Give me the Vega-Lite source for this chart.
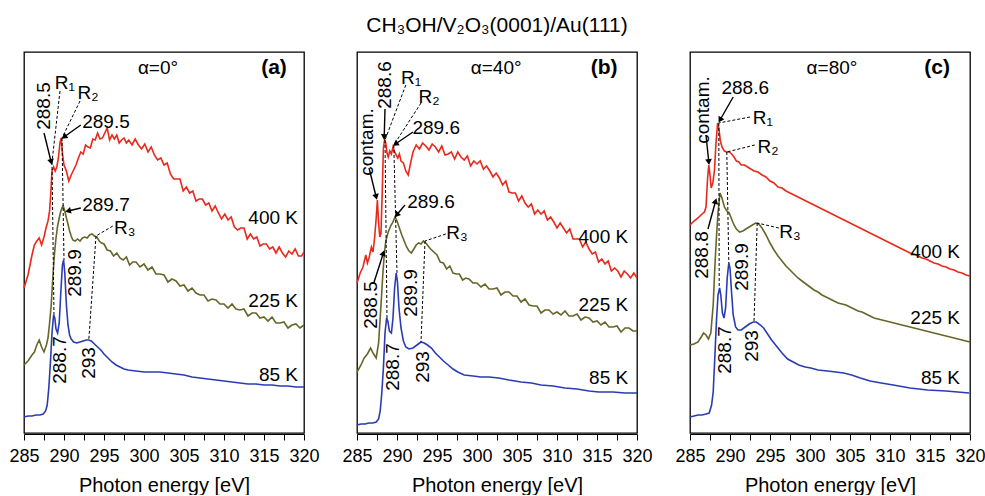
{
"$schema":"https://vega.github.io/schema/vega-lite/v6.json",
"padding":{"left":8,"top":15,"right":0,"bottom":0},
"title":{"text":"CH₃OH/V₂O₃(0001)/Au(111)","fontSize":21,"font":"Liberation Sans","fontWeight":"normal","anchor":"middle","offset":15,"color":"black"},
"config":{"view":{"stroke":"black","strokeWidth":1.3},"font":"Liberation Sans",
"axis":{"labelFont":"Liberation Sans","labelFontSize":18,"labelColor":"black","titleFont":"Liberation Sans","titleFontSize":20,"titleFontWeight":"normal","titleColor":"black","tickColor":"black","domainColor":"black","tickSize":6,"grid":false}},
"spacing":45,
"data":{"values":[
{"p":"a","k":"c","s":"400 K","x":285,"y":145},{"p":"a","k":"c","s":"400 K","x":285.5,"y":158},{"p":"a","k":"c","s":"400 K","x":286,"y":178},{"p":"a","k":"c","s":"400 K","x":286.3,"y":188},{"p":"a","k":"c","s":"400 K","x":286.6,"y":192},{"p":"a","k":"c","s":"400 K","x":286.9,"y":195},{"p":"a","k":"c","s":"400 K","x":287.2,"y":188},{"p":"a","k":"c","s":"400 K","x":287.5,"y":196},{"p":"a","k":"c","s":"400 K","x":287.75,"y":205},{"p":"a","k":"c","s":"400 K","x":288,"y":212},{"p":"a","k":"c","s":"400 K","x":288.2,"y":222},{"p":"a","k":"c","s":"400 K","x":288.35,"y":240},{"p":"a","k":"c","s":"400 K","x":288.5,"y":262},{"p":"a","k":"c","s":"400 K","x":288.7,"y":266},{"p":"a","k":"c","s":"400 K","x":288.9,"y":262},{"p":"a","k":"c","s":"400 K","x":289.1,"y":266},{"p":"a","k":"c","s":"400 K","x":289.3,"y":275},{"p":"a","k":"c","s":"400 K","x":289.5,"y":290},{"p":"a","k":"c","s":"400 K","x":289.65,"y":295},{"p":"a","k":"c","s":"400 K","x":289.8,"y":280},{"p":"a","k":"c","s":"400 K","x":290,"y":268},{"p":"a","k":"c","s":"400 K","x":290.3,"y":262},{"p":"a","k":"c","s":"400 K","x":290.6,"y":252},{"p":"a","k":"c","s":"400 K","x":290.9,"y":258},{"p":"a","k":"c","s":"400 K","x":291.2,"y":263},{"p":"a","k":"c","s":"400 K","x":291.5,"y":268},{"p":"a","k":"c","s":"400 K","x":291.8,"y":275},{"p":"a","k":"c","s":"400 K","x":292.1,"y":281},{"p":"a","k":"c","s":"400 K","x":292.4,"y":279},{"p":"a","k":"c","s":"400 K","x":292.7,"y":288},{"p":"a","k":"c","s":"400 K","x":293,"y":286},{"p":"a","k":"c","s":"400 K","x":293.3,"y":285},{"p":"a","k":"c","s":"400 K","x":293.6,"y":294},{"p":"a","k":"c","s":"400 K","x":293.9,"y":293},{"p":"a","k":"c","s":"400 K","x":294.2,"y":300},{"p":"a","k":"c","s":"400 K","x":294.5,"y":294},{"p":"a","k":"c","s":"400 K","x":294.8,"y":295},{"p":"a","k":"c","s":"400 K","x":295.1,"y":300},{"p":"a","k":"c","s":"400 K","x":295.4,"y":305},{"p":"a","k":"c","s":"400 K","x":295.7,"y":293},{"p":"a","k":"c","s":"400 K","x":296,"y":298},{"p":"a","k":"c","s":"400 K","x":296.3,"y":294},{"p":"a","k":"c","s":"400 K","x":296.6,"y":298},{"p":"a","k":"c","s":"400 K","x":296.9,"y":290},{"p":"a","k":"c","s":"400 K","x":297.2,"y":293},{"p":"a","k":"c","s":"400 K","x":297.5,"y":295},{"p":"a","k":"c","s":"400 K","x":297.8,"y":290},{"p":"a","k":"c","s":"400 K","x":298.1,"y":293},{"p":"a","k":"c","s":"400 K","x":298.5,"y":288},{"p":"a","k":"c","s":"400 K","x":298.9,"y":294},{"p":"a","k":"c","s":"400 K","x":299.3,"y":288},{"p":"a","k":"c","s":"400 K","x":299.7,"y":284},{"p":"a","k":"c","s":"400 K","x":300.1,"y":289},{"p":"a","k":"c","s":"400 K","x":300.5,"y":281},{"p":"a","k":"c","s":"400 K","x":300.9,"y":286},{"p":"a","k":"c","s":"400 K","x":301.3,"y":278},{"p":"a","k":"c","s":"400 K","x":301.7,"y":273},{"p":"a","k":"c","s":"400 K","x":302.1,"y":275},{"p":"a","k":"c","s":"400 K","x":302.5,"y":268},{"p":"a","k":"c","s":"400 K","x":302.9,"y":270},{"p":"a","k":"c","s":"400 K","x":303.3,"y":259},{"p":"a","k":"c","s":"400 K","x":303.7,"y":254},{"p":"a","k":"c","s":"400 K","x":304.1,"y":254},{"p":"a","k":"c","s":"400 K","x":304.5,"y":254},{"p":"a","k":"c","s":"400 K","x":304.9,"y":242},{"p":"a","k":"c","s":"400 K","x":305.3,"y":246},{"p":"a","k":"c","s":"400 K","x":305.7,"y":240},{"p":"a","k":"c","s":"400 K","x":306.1,"y":242},{"p":"a","k":"c","s":"400 K","x":306.5,"y":232},{"p":"a","k":"c","s":"400 K","x":306.9,"y":234},{"p":"a","k":"c","s":"400 K","x":307.3,"y":234},{"p":"a","k":"c","s":"400 K","x":307.7,"y":228},{"p":"a","k":"c","s":"400 K","x":308.1,"y":230},{"p":"a","k":"c","s":"400 K","x":308.5,"y":222},{"p":"a","k":"c","s":"400 K","x":308.9,"y":227},{"p":"a","k":"c","s":"400 K","x":309.3,"y":220},{"p":"a","k":"c","s":"400 K","x":309.7,"y":214},{"p":"a","k":"c","s":"400 K","x":310.1,"y":219},{"p":"a","k":"c","s":"400 K","x":310.5,"y":213},{"p":"a","k":"c","s":"400 K","x":310.9,"y":216},{"p":"a","k":"c","s":"400 K","x":311.3,"y":206},{"p":"a","k":"c","s":"400 K","x":311.7,"y":203},{"p":"a","k":"c","s":"400 K","x":312.1,"y":205},{"p":"a","k":"c","s":"400 K","x":312.5,"y":205},{"p":"a","k":"c","s":"400 K","x":312.9,"y":194},{"p":"a","k":"c","s":"400 K","x":313.3,"y":199},{"p":"a","k":"c","s":"400 K","x":313.7,"y":194},{"p":"a","k":"c","s":"400 K","x":314.1,"y":196},{"p":"a","k":"c","s":"400 K","x":314.5,"y":187},{"p":"a","k":"c","s":"400 K","x":314.9,"y":189},{"p":"a","k":"c","s":"400 K","x":315.3,"y":189},{"p":"a","k":"c","s":"400 K","x":315.7,"y":184},{"p":"a","k":"c","s":"400 K","x":316.1,"y":186},{"p":"a","k":"c","s":"400 K","x":316.5,"y":180},{"p":"a","k":"c","s":"400 K","x":316.9,"y":186},{"p":"a","k":"c","s":"400 K","x":317.3,"y":180},{"p":"a","k":"c","s":"400 K","x":317.7,"y":176},{"p":"a","k":"c","s":"400 K","x":318.1,"y":182},{"p":"a","k":"c","s":"400 K","x":318.5,"y":179},{"p":"a","k":"c","s":"400 K","x":318.9,"y":184},{"p":"a","k":"c","s":"400 K","x":319.3,"y":177},{"p":"a","k":"c","s":"400 K","x":319.7,"y":177},{"p":"a","k":"c","s":"400 K","x":320,"y":181},
{"p":"a","k":"c","s":"225 K","x":285,"y":68},{"p":"a","k":"c","s":"225 K","x":285.5,"y":72},{"p":"a","k":"c","s":"225 K","x":286,"y":78},{"p":"a","k":"c","s":"225 K","x":286.3,"y":81},{"p":"a","k":"c","s":"225 K","x":286.6,"y":88},{"p":"a","k":"c","s":"225 K","x":286.9,"y":93},{"p":"a","k":"c","s":"225 K","x":287.2,"y":86},{"p":"a","k":"c","s":"225 K","x":287.5,"y":81},{"p":"a","k":"c","s":"225 K","x":287.8,"y":88},{"p":"a","k":"c","s":"225 K","x":288,"y":95},{"p":"a","k":"c","s":"225 K","x":288.2,"y":110},{"p":"a","k":"c","s":"225 K","x":288.4,"y":128},{"p":"a","k":"c","s":"225 K","x":288.6,"y":155},{"p":"a","k":"c","s":"225 K","x":288.8,"y":178},{"p":"a","k":"c","s":"225 K","x":289,"y":195},{"p":"a","k":"c","s":"225 K","x":289.2,"y":207},{"p":"a","k":"c","s":"225 K","x":289.4,"y":215},{"p":"a","k":"c","s":"225 K","x":289.6,"y":222},{"p":"a","k":"c","s":"225 K","x":289.8,"y":226},{"p":"a","k":"c","s":"225 K","x":289.9,"y":227},{"p":"a","k":"c","s":"225 K","x":290.1,"y":222},{"p":"a","k":"c","s":"225 K","x":290.3,"y":215},{"p":"a","k":"c","s":"225 K","x":290.5,"y":209},{"p":"a","k":"c","s":"225 K","x":290.7,"y":202},{"p":"a","k":"c","s":"225 K","x":290.9,"y":197},{"p":"a","k":"c","s":"225 K","x":291.1,"y":193},{"p":"a","k":"c","s":"225 K","x":291.4,"y":192},{"p":"a","k":"c","s":"225 K","x":291.7,"y":194},{"p":"a","k":"c","s":"225 K","x":292,"y":192},{"p":"a","k":"c","s":"225 K","x":292.3,"y":195},{"p":"a","k":"c","s":"225 K","x":292.6,"y":196},{"p":"a","k":"c","s":"225 K","x":292.9,"y":195},{"p":"a","k":"c","s":"225 K","x":293.2,"y":198},{"p":"a","k":"c","s":"225 K","x":293.5,"y":199},{"p":"a","k":"c","s":"225 K","x":293.8,"y":197},{"p":"a","k":"c","s":"225 K","x":294.1,"y":196},{"p":"a","k":"c","s":"225 K","x":294.4,"y":192},{"p":"a","k":"c","s":"225 K","x":294.7,"y":190},{"p":"a","k":"c","s":"225 K","x":295,"y":189},{"p":"a","k":"c","s":"225 K","x":295.4,"y":183},{"p":"a","k":"c","s":"225 K","x":295.8,"y":182},{"p":"a","k":"c","s":"225 K","x":296.2,"y":177},{"p":"a","k":"c","s":"225 K","x":296.6,"y":180},{"p":"a","k":"c","s":"225 K","x":297,"y":175},{"p":"a","k":"c","s":"225 K","x":297.4,"y":173},{"p":"a","k":"c","s":"225 K","x":297.8,"y":176},{"p":"a","k":"c","s":"225 K","x":298.2,"y":168},{"p":"a","k":"c","s":"225 K","x":298.6,"y":171},{"p":"a","k":"c","s":"225 K","x":299,"y":171},{"p":"a","k":"c","s":"225 K","x":299.5,"y":166},{"p":"a","k":"c","s":"225 K","x":300,"y":169},{"p":"a","k":"c","s":"225 K","x":300.5,"y":163},{"p":"a","k":"c","s":"225 K","x":301,"y":166},{"p":"a","k":"c","s":"225 K","x":301.5,"y":159},{"p":"a","k":"c","s":"225 K","x":302,"y":159},{"p":"a","k":"c","s":"225 K","x":302.5,"y":158},{"p":"a","k":"c","s":"225 K","x":303,"y":151},{"p":"a","k":"c","s":"225 K","x":303.5,"y":154},{"p":"a","k":"c","s":"225 K","x":304,"y":152},{"p":"a","k":"c","s":"225 K","x":304.5,"y":147},{"p":"a","k":"c","s":"225 K","x":305,"y":148},{"p":"a","k":"c","s":"225 K","x":305.5,"y":142},{"p":"a","k":"c","s":"225 K","x":306,"y":145},{"p":"a","k":"c","s":"225 K","x":306.5,"y":140},{"p":"a","k":"c","s":"225 K","x":307,"y":138},{"p":"a","k":"c","s":"225 K","x":307.5,"y":138},{"p":"a","k":"c","s":"225 K","x":308,"y":132},{"p":"a","k":"c","s":"225 K","x":308.5,"y":134},{"p":"a","k":"c","s":"225 K","x":309,"y":133},{"p":"a","k":"c","s":"225 K","x":309.5,"y":129},{"p":"a","k":"c","s":"225 K","x":310,"y":129},{"p":"a","k":"c","s":"225 K","x":310.5,"y":125},{"p":"a","k":"c","s":"225 K","x":311,"y":129},{"p":"a","k":"c","s":"225 K","x":311.5,"y":124},{"p":"a","k":"c","s":"225 K","x":312,"y":123},{"p":"a","k":"c","s":"225 K","x":312.5,"y":124},{"p":"a","k":"c","s":"225 K","x":313,"y":117},{"p":"a","k":"c","s":"225 K","x":313.5,"y":120},{"p":"a","k":"c","s":"225 K","x":314,"y":120},{"p":"a","k":"c","s":"225 K","x":314.5,"y":115},{"p":"a","k":"c","s":"225 K","x":315,"y":116},{"p":"a","k":"c","s":"225 K","x":315.5,"y":112},{"p":"a","k":"c","s":"225 K","x":316,"y":116},{"p":"a","k":"c","s":"225 K","x":316.5,"y":110},{"p":"a","k":"c","s":"225 K","x":317,"y":110},{"p":"a","k":"c","s":"225 K","x":317.5,"y":111},{"p":"a","k":"c","s":"225 K","x":318,"y":105},{"p":"a","k":"c","s":"225 K","x":318.5,"y":108},{"p":"a","k":"c","s":"225 K","x":319,"y":109},{"p":"a","k":"c","s":"225 K","x":319.5,"y":105},{"p":"a","k":"c","s":"225 K","x":320,"y":108},
{"p":"a","k":"c","s":"85 K","x":285,"y":16},{"p":"a","k":"c","s":"85 K","x":285.5,"y":17},{"p":"a","k":"c","s":"85 K","x":286,"y":17},{"p":"a","k":"c","s":"85 K","x":286.5,"y":18},{"p":"a","k":"c","s":"85 K","x":287,"y":18},{"p":"a","k":"c","s":"85 K","x":287.4,"y":19},{"p":"a","k":"c","s":"85 K","x":287.7,"y":22},{"p":"a","k":"c","s":"85 K","x":287.9,"y":28},{"p":"a","k":"c","s":"85 K","x":288.1,"y":45},{"p":"a","k":"c","s":"85 K","x":288.3,"y":70},{"p":"a","k":"c","s":"85 K","x":288.5,"y":100},{"p":"a","k":"c","s":"85 K","x":288.7,"y":118},{"p":"a","k":"c","s":"85 K","x":288.85,"y":115},{"p":"a","k":"c","s":"85 K","x":289,"y":104},{"p":"a","k":"c","s":"85 K","x":289.2,"y":100},{"p":"a","k":"c","s":"85 K","x":289.4,"y":110},{"p":"a","k":"c","s":"85 K","x":289.6,"y":140},{"p":"a","k":"c","s":"85 K","x":289.8,"y":168},{"p":"a","k":"c","s":"85 K","x":289.95,"y":173},{"p":"a","k":"c","s":"85 K","x":290.1,"y":160},{"p":"a","k":"c","s":"85 K","x":290.3,"y":128},{"p":"a","k":"c","s":"85 K","x":290.5,"y":108},{"p":"a","k":"c","s":"85 K","x":290.7,"y":98},{"p":"a","k":"c","s":"85 K","x":290.9,"y":94},{"p":"a","k":"c","s":"85 K","x":291.2,"y":91},{"p":"a","k":"c","s":"85 K","x":291.6,"y":90},{"p":"a","k":"c","s":"85 K","x":292,"y":91},{"p":"a","k":"c","s":"85 K","x":292.4,"y":92},{"p":"a","k":"c","s":"85 K","x":292.8,"y":93},{"p":"a","k":"c","s":"85 K","x":293.1,"y":93},{"p":"a","k":"c","s":"85 K","x":293.4,"y":92},{"p":"a","k":"c","s":"85 K","x":293.8,"y":89},{"p":"a","k":"c","s":"85 K","x":294.2,"y":86},{"p":"a","k":"c","s":"85 K","x":294.6,"y":83},{"p":"a","k":"c","s":"85 K","x":295,"y":79},{"p":"a","k":"c","s":"85 K","x":295.5,"y":75},{"p":"a","k":"c","s":"85 K","x":296,"y":71},{"p":"a","k":"c","s":"85 K","x":296.5,"y":68},{"p":"a","k":"c","s":"85 K","x":297,"y":66},{"p":"a","k":"c","s":"85 K","x":297.5,"y":64},{"p":"a","k":"c","s":"85 K","x":298,"y":63},{"p":"a","k":"c","s":"85 K","x":299,"y":62},{"p":"a","k":"c","s":"85 K","x":300,"y":61},{"p":"a","k":"c","s":"85 K","x":301,"y":61},{"p":"a","k":"c","s":"85 K","x":302,"y":61},{"p":"a","k":"c","s":"85 K","x":303,"y":60},{"p":"a","k":"c","s":"85 K","x":304,"y":59},{"p":"a","k":"c","s":"85 K","x":305,"y":58},{"p":"a","k":"c","s":"85 K","x":306,"y":56},{"p":"a","k":"c","s":"85 K","x":307,"y":55},{"p":"a","k":"c","s":"85 K","x":308,"y":54},{"p":"a","k":"c","s":"85 K","x":309,"y":53},{"p":"a","k":"c","s":"85 K","x":310,"y":52},{"p":"a","k":"c","s":"85 K","x":311,"y":51},{"p":"a","k":"c","s":"85 K","x":312,"y":50},{"p":"a","k":"c","s":"85 K","x":313,"y":49},{"p":"a","k":"c","s":"85 K","x":314,"y":49},{"p":"a","k":"c","s":"85 K","x":315,"y":48},{"p":"a","k":"c","s":"85 K","x":316,"y":48},{"p":"a","k":"c","s":"85 K","x":317,"y":47},{"p":"a","k":"c","s":"85 K","x":318,"y":47},{"p":"a","k":"c","s":"85 K","x":319,"y":46},{"p":"a","k":"c","s":"85 K","x":320,"y":46},
{"p":"b","k":"c","s":"400 K","x":285,"y":150},{"p":"b","k":"c","s":"400 K","x":285.4,"y":160},{"p":"b","k":"c","s":"400 K","x":285.75,"y":166},{"p":"b","k":"c","s":"400 K","x":286.1,"y":178},{"p":"b","k":"c","s":"400 K","x":286.3,"y":170},{"p":"b","k":"c","s":"400 K","x":286.5,"y":175},{"p":"b","k":"c","s":"400 K","x":286.8,"y":186},{"p":"b","k":"c","s":"400 K","x":287,"y":181},{"p":"b","k":"c","s":"400 K","x":287.2,"y":195},{"p":"b","k":"c","s":"400 K","x":287.4,"y":215},{"p":"b","k":"c","s":"400 K","x":287.55,"y":233},{"p":"b","k":"c","s":"400 K","x":287.7,"y":210},{"p":"b","k":"c","s":"400 K","x":287.85,"y":196},{"p":"b","k":"c","s":"400 K","x":288,"y":200},{"p":"b","k":"c","s":"400 K","x":288.15,"y":240},{"p":"b","k":"c","s":"400 K","x":288.3,"y":285},{"p":"b","k":"c","s":"400 K","x":288.45,"y":293},{"p":"b","k":"c","s":"400 K","x":288.6,"y":290},{"p":"b","k":"c","s":"400 K","x":288.75,"y":280},{"p":"b","k":"c","s":"400 K","x":288.9,"y":276},{"p":"b","k":"c","s":"400 K","x":289.1,"y":282},{"p":"b","k":"c","s":"400 K","x":289.3,"y":279},{"p":"b","k":"c","s":"400 K","x":289.5,"y":286},{"p":"b","k":"c","s":"400 K","x":289.7,"y":281},{"p":"b","k":"c","s":"400 K","x":289.9,"y":278},{"p":"b","k":"c","s":"400 K","x":290.1,"y":275},{"p":"b","k":"c","s":"400 K","x":290.3,"y":279},{"p":"b","k":"c","s":"400 K","x":290.5,"y":272},{"p":"b","k":"c","s":"400 K","x":290.8,"y":270},{"p":"b","k":"c","s":"400 K","x":291.1,"y":262},{"p":"b","k":"c","s":"400 K","x":291.4,"y":258},{"p":"b","k":"c","s":"400 K","x":291.7,"y":270},{"p":"b","k":"c","s":"400 K","x":292,"y":281},{"p":"b","k":"c","s":"400 K","x":292.4,"y":288},{"p":"b","k":"c","s":"400 K","x":292.8,"y":284},{"p":"b","k":"c","s":"400 K","x":293.2,"y":290},{"p":"b","k":"c","s":"400 K","x":293.6,"y":287},{"p":"b","k":"c","s":"400 K","x":294,"y":283},{"p":"b","k":"c","s":"400 K","x":294.4,"y":289},{"p":"b","k":"c","s":"400 K","x":294.8,"y":286},{"p":"b","k":"c","s":"400 K","x":295.2,"y":281},{"p":"b","k":"c","s":"400 K","x":295.6,"y":287},{"p":"b","k":"c","s":"400 K","x":296,"y":278},{"p":"b","k":"c","s":"400 K","x":296.4,"y":279},{"p":"b","k":"c","s":"400 K","x":296.8,"y":281},{"p":"b","k":"c","s":"400 K","x":297.2,"y":274},{"p":"b","k":"c","s":"400 K","x":297.6,"y":281},{"p":"b","k":"c","s":"400 K","x":298,"y":276},{"p":"b","k":"c","s":"400 K","x":298.4,"y":273},{"p":"b","k":"c","s":"400 K","x":298.8,"y":277},{"p":"b","k":"c","s":"400 K","x":299.2,"y":267},{"p":"b","k":"c","s":"400 K","x":299.6,"y":272},{"p":"b","k":"c","s":"400 K","x":300,"y":269},{"p":"b","k":"c","s":"400 K","x":300.4,"y":272},{"p":"b","k":"c","s":"400 K","x":300.8,"y":264},{"p":"b","k":"c","s":"400 K","x":301.2,"y":267},{"p":"b","k":"c","s":"400 K","x":301.6,"y":262},{"p":"b","k":"c","s":"400 K","x":302,"y":256},{"p":"b","k":"c","s":"400 K","x":302.4,"y":260},{"p":"b","k":"c","s":"400 K","x":302.8,"y":255},{"p":"b","k":"c","s":"400 K","x":303.2,"y":248},{"p":"b","k":"c","s":"400 K","x":303.6,"y":252},{"p":"b","k":"c","s":"400 K","x":304,"y":241},{"p":"b","k":"c","s":"400 K","x":304.4,"y":240},{"p":"b","k":"c","s":"400 K","x":304.8,"y":240},{"p":"b","k":"c","s":"400 K","x":305.2,"y":232},{"p":"b","k":"c","s":"400 K","x":305.6,"y":237},{"p":"b","k":"c","s":"400 K","x":306,"y":230},{"p":"b","k":"c","s":"400 K","x":306.4,"y":226},{"p":"b","k":"c","s":"400 K","x":306.8,"y":229},{"p":"b","k":"c","s":"400 K","x":307.2,"y":219},{"p":"b","k":"c","s":"400 K","x":307.6,"y":223},{"p":"b","k":"c","s":"400 K","x":308,"y":219},{"p":"b","k":"c","s":"400 K","x":308.4,"y":222},{"p":"b","k":"c","s":"400 K","x":308.8,"y":213},{"p":"b","k":"c","s":"400 K","x":309.2,"y":216},{"p":"b","k":"c","s":"400 K","x":309.6,"y":211},{"p":"b","k":"c","s":"400 K","x":310,"y":205},{"p":"b","k":"c","s":"400 K","x":310.4,"y":210},{"p":"b","k":"c","s":"400 K","x":310.8,"y":205},{"p":"b","k":"c","s":"400 K","x":311.2,"y":200},{"p":"b","k":"c","s":"400 K","x":311.6,"y":204},{"p":"b","k":"c","s":"400 K","x":312,"y":194},{"p":"b","k":"c","s":"400 K","x":312.4,"y":194},{"p":"b","k":"c","s":"400 K","x":312.8,"y":194},{"p":"b","k":"c","s":"400 K","x":313.2,"y":186},{"p":"b","k":"c","s":"400 K","x":313.6,"y":191},{"p":"b","k":"c","s":"400 K","x":314,"y":184},{"p":"b","k":"c","s":"400 K","x":314.4,"y":179},{"p":"b","k":"c","s":"400 K","x":314.8,"y":181},{"p":"b","k":"c","s":"400 K","x":315.2,"y":171},{"p":"b","k":"c","s":"400 K","x":315.6,"y":174},{"p":"b","k":"c","s":"400 K","x":316,"y":169},{"p":"b","k":"c","s":"400 K","x":316.4,"y":172},{"p":"b","k":"c","s":"400 K","x":316.8,"y":162},{"p":"b","k":"c","s":"400 K","x":317.2,"y":165},{"p":"b","k":"c","s":"400 K","x":317.6,"y":162},{"p":"b","k":"c","s":"400 K","x":318,"y":156},{"p":"b","k":"c","s":"400 K","x":318.4,"y":162},{"p":"b","k":"c","s":"400 K","x":318.8,"y":159},{"p":"b","k":"c","s":"400 K","x":319.2,"y":155},{"p":"b","k":"c","s":"400 K","x":319.6,"y":160},{"p":"b","k":"c","s":"400 K","x":320,"y":155},
{"p":"b","k":"c","s":"225 K","x":285,"y":61},{"p":"b","k":"c","s":"225 K","x":285.5,"y":68},{"p":"b","k":"c","s":"225 K","x":285.9,"y":75},{"p":"b","k":"c","s":"225 K","x":286.3,"y":79},{"p":"b","k":"c","s":"225 K","x":286.7,"y":85},{"p":"b","k":"c","s":"225 K","x":287,"y":80},{"p":"b","k":"c","s":"225 K","x":287.4,"y":75},{"p":"b","k":"c","s":"225 K","x":287.7,"y":90},{"p":"b","k":"c","s":"225 K","x":288,"y":128},{"p":"b","k":"c","s":"225 K","x":288.2,"y":155},{"p":"b","k":"c","s":"225 K","x":288.4,"y":178},{"p":"b","k":"c","s":"225 K","x":288.6,"y":192},{"p":"b","k":"c","s":"225 K","x":288.9,"y":201},{"p":"b","k":"c","s":"225 K","x":289.2,"y":207},{"p":"b","k":"c","s":"225 K","x":289.5,"y":211},{"p":"b","k":"c","s":"225 K","x":289.75,"y":216},{"p":"b","k":"c","s":"225 K","x":290,"y":212},{"p":"b","k":"c","s":"225 K","x":290.3,"y":205},{"p":"b","k":"c","s":"225 K","x":290.6,"y":198},{"p":"b","k":"c","s":"225 K","x":290.9,"y":192},{"p":"b","k":"c","s":"225 K","x":291.2,"y":186},{"p":"b","k":"c","s":"225 K","x":291.5,"y":182},{"p":"b","k":"c","s":"225 K","x":291.8,"y":180},{"p":"b","k":"c","s":"225 K","x":292.1,"y":184},{"p":"b","k":"c","s":"225 K","x":292.4,"y":188},{"p":"b","k":"c","s":"225 K","x":292.7,"y":190},{"p":"b","k":"c","s":"225 K","x":293,"y":189},{"p":"b","k":"c","s":"225 K","x":293.3,"y":192},{"p":"b","k":"c","s":"225 K","x":293.6,"y":190},{"p":"b","k":"c","s":"225 K","x":293.9,"y":187},{"p":"b","k":"c","s":"225 K","x":294.2,"y":184},{"p":"b","k":"c","s":"225 K","x":294.6,"y":181},{"p":"b","k":"c","s":"225 K","x":295,"y":178},{"p":"b","k":"c","s":"225 K","x":295.4,"y":171},{"p":"b","k":"c","s":"225 K","x":295.8,"y":170},{"p":"b","k":"c","s":"225 K","x":296.2,"y":164},{"p":"b","k":"c","s":"225 K","x":296.6,"y":167},{"p":"b","k":"c","s":"225 K","x":297,"y":160},{"p":"b","k":"c","s":"225 K","x":297.4,"y":159},{"p":"b","k":"c","s":"225 K","x":297.8,"y":159},{"p":"b","k":"c","s":"225 K","x":298.2,"y":153},{"p":"b","k":"c","s":"225 K","x":298.6,"y":155},{"p":"b","k":"c","s":"225 K","x":299,"y":154},{"p":"b","k":"c","s":"225 K","x":299.5,"y":150},{"p":"b","k":"c","s":"225 K","x":300,"y":150},{"p":"b","k":"c","s":"225 K","x":300.5,"y":146},{"p":"b","k":"c","s":"225 K","x":301,"y":149},{"p":"b","k":"c","s":"225 K","x":301.5,"y":144},{"p":"b","k":"c","s":"225 K","x":302,"y":144},{"p":"b","k":"c","s":"225 K","x":302.5,"y":145},{"p":"b","k":"c","s":"225 K","x":303,"y":138},{"p":"b","k":"c","s":"225 K","x":303.5,"y":141},{"p":"b","k":"c","s":"225 K","x":304,"y":141},{"p":"b","k":"c","s":"225 K","x":304.5,"y":137},{"p":"b","k":"c","s":"225 K","x":305,"y":137},{"p":"b","k":"c","s":"225 K","x":305.5,"y":131},{"p":"b","k":"c","s":"225 K","x":306,"y":134},{"p":"b","k":"c","s":"225 K","x":306.5,"y":128},{"p":"b","k":"c","s":"225 K","x":307,"y":127},{"p":"b","k":"c","s":"225 K","x":307.5,"y":127},{"p":"b","k":"c","s":"225 K","x":308,"y":120},{"p":"b","k":"c","s":"225 K","x":308.5,"y":123},{"p":"b","k":"c","s":"225 K","x":309,"y":123},{"p":"b","k":"c","s":"225 K","x":309.5,"y":119},{"p":"b","k":"c","s":"225 K","x":310,"y":121},{"p":"b","k":"c","s":"225 K","x":310.5,"y":118},{"p":"b","k":"c","s":"225 K","x":311,"y":122},{"p":"b","k":"c","s":"225 K","x":311.5,"y":117},{"p":"b","k":"c","s":"225 K","x":312,"y":117},{"p":"b","k":"c","s":"225 K","x":312.5,"y":119},{"p":"b","k":"c","s":"225 K","x":313,"y":113},{"p":"b","k":"c","s":"225 K","x":313.5,"y":116},{"p":"b","k":"c","s":"225 K","x":314,"y":115},{"p":"b","k":"c","s":"225 K","x":314.5,"y":111},{"p":"b","k":"c","s":"225 K","x":315,"y":112},{"p":"b","k":"c","s":"225 K","x":315.5,"y":108},{"p":"b","k":"c","s":"225 K","x":316,"y":111},{"p":"b","k":"c","s":"225 K","x":316.5,"y":106},{"p":"b","k":"c","s":"225 K","x":317,"y":106},{"p":"b","k":"c","s":"225 K","x":317.5,"y":107},{"p":"b","k":"c","s":"225 K","x":318,"y":101},{"p":"b","k":"c","s":"225 K","x":318.5,"y":105},{"p":"b","k":"c","s":"225 K","x":319,"y":105},{"p":"b","k":"c","s":"225 K","x":319.5,"y":102},{"p":"b","k":"c","s":"225 K","x":320,"y":102},
{"p":"b","k":"c","s":"85 K","x":285,"y":8},{"p":"b","k":"c","s":"85 K","x":285.5,"y":9},{"p":"b","k":"c","s":"85 K","x":286,"y":9},{"p":"b","k":"c","s":"85 K","x":286.5,"y":10},{"p":"b","k":"c","s":"85 K","x":287,"y":10},{"p":"b","k":"c","s":"85 K","x":287.4,"y":11},{"p":"b","k":"c","s":"85 K","x":287.7,"y":14},{"p":"b","k":"c","s":"85 K","x":287.9,"y":22},{"p":"b","k":"c","s":"85 K","x":288.1,"y":40},{"p":"b","k":"c","s":"85 K","x":288.3,"y":65},{"p":"b","k":"c","s":"85 K","x":288.5,"y":100},{"p":"b","k":"c","s":"85 K","x":288.7,"y":115},{"p":"b","k":"c","s":"85 K","x":288.85,"y":112},{"p":"b","k":"c","s":"85 K","x":289.05,"y":102},{"p":"b","k":"c","s":"85 K","x":289.3,"y":100},{"p":"b","k":"c","s":"85 K","x":289.5,"y":115},{"p":"b","k":"c","s":"85 K","x":289.7,"y":145},{"p":"b","k":"c","s":"85 K","x":289.9,"y":160},{"p":"b","k":"c","s":"85 K","x":290.05,"y":152},{"p":"b","k":"c","s":"85 K","x":290.25,"y":125},{"p":"b","k":"c","s":"85 K","x":290.5,"y":105},{"p":"b","k":"c","s":"85 K","x":290.8,"y":92},{"p":"b","k":"c","s":"85 K","x":291.1,"y":86},{"p":"b","k":"c","s":"85 K","x":291.5,"y":84},{"p":"b","k":"c","s":"85 K","x":292,"y":85},{"p":"b","k":"c","s":"85 K","x":292.5,"y":88},{"p":"b","k":"c","s":"85 K","x":293,"y":91},{"p":"b","k":"c","s":"85 K","x":293.4,"y":90},{"p":"b","k":"c","s":"85 K","x":293.8,"y":88},{"p":"b","k":"c","s":"85 K","x":294.3,"y":85},{"p":"b","k":"c","s":"85 K","x":294.8,"y":80},{"p":"b","k":"c","s":"85 K","x":295.3,"y":76},{"p":"b","k":"c","s":"85 K","x":295.8,"y":72},{"p":"b","k":"c","s":"85 K","x":296.4,"y":68},{"p":"b","k":"c","s":"85 K","x":297,"y":64},{"p":"b","k":"c","s":"85 K","x":297.6,"y":61},{"p":"b","k":"c","s":"85 K","x":298.4,"y":58},{"p":"b","k":"c","s":"85 K","x":299.5,"y":57},{"p":"b","k":"c","s":"85 K","x":300.5,"y":56},{"p":"b","k":"c","s":"85 K","x":301.5,"y":56},{"p":"b","k":"c","s":"85 K","x":302.7,"y":55},{"p":"b","k":"c","s":"85 K","x":304,"y":53},{"p":"b","k":"c","s":"85 K","x":305.5,"y":51},{"p":"b","k":"c","s":"85 K","x":306.8,"y":50},{"p":"b","k":"c","s":"85 K","x":308,"y":48},{"p":"b","k":"c","s":"85 K","x":309.5,"y":47},{"p":"b","k":"c","s":"85 K","x":311,"y":45},{"p":"b","k":"c","s":"85 K","x":312.5,"y":44},{"p":"b","k":"c","s":"85 K","x":314,"y":42},{"p":"b","k":"c","s":"85 K","x":315.2,"y":41},{"p":"b","k":"c","s":"85 K","x":317,"y":41},{"p":"b","k":"c","s":"85 K","x":318.5,"y":40},{"p":"b","k":"c","s":"85 K","x":320,"y":40},
{"p":"c","k":"c","s":"400 K","x":285,"y":208},{"p":"c","k":"c","s":"400 K","x":285.5,"y":212},{"p":"c","k":"c","s":"400 K","x":286,"y":215},{"p":"c","k":"c","s":"400 K","x":286.5,"y":219},{"p":"c","k":"c","s":"400 K","x":286.8,"y":221},{"p":"c","k":"c","s":"400 K","x":287,"y":226},{"p":"c","k":"c","s":"400 K","x":287.2,"y":255},{"p":"c","k":"c","s":"400 K","x":287.35,"y":268},{"p":"c","k":"c","s":"400 K","x":287.5,"y":258},{"p":"c","k":"c","s":"400 K","x":287.65,"y":245},{"p":"c","k":"c","s":"400 K","x":287.85,"y":250},{"p":"c","k":"c","s":"400 K","x":288.05,"y":262},{"p":"c","k":"c","s":"400 K","x":288.25,"y":290},{"p":"c","k":"c","s":"400 K","x":288.45,"y":310},{"p":"c","k":"c","s":"400 K","x":288.6,"y":305},{"p":"c","k":"c","s":"400 K","x":288.8,"y":292},{"p":"c","k":"c","s":"400 K","x":289,"y":286},{"p":"c","k":"c","s":"400 K","x":289.3,"y":282},{"p":"c","k":"c","s":"400 K","x":289.6,"y":281},{"p":"c","k":"c","s":"400 K","x":289.9,"y":281},{"p":"c","k":"c","s":"400 K","x":290.2,"y":279},{"p":"c","k":"c","s":"400 K","x":290.5,"y":276},{"p":"c","k":"c","s":"400 K","x":290.8,"y":272},{"p":"c","k":"c","s":"400 K","x":291.1,"y":271},{"p":"c","k":"c","s":"400 K","x":291.4,"y":268},{"p":"c","k":"c","s":"400 K","x":291.8,"y":268},{"p":"c","k":"c","s":"400 K","x":292.2,"y":266},{"p":"c","k":"c","s":"400 K","x":292.6,"y":264},{"p":"c","k":"c","s":"400 K","x":293,"y":262},{"p":"c","k":"c","s":"400 K","x":293.5,"y":261},{"p":"c","k":"c","s":"400 K","x":294,"y":258},{"p":"c","k":"c","s":"400 K","x":294.5,"y":256},{"p":"c","k":"c","s":"400 K","x":295,"y":252},{"p":"c","k":"c","s":"400 K","x":295.5,"y":250},{"p":"c","k":"c","s":"400 K","x":296,"y":246},{"p":"c","k":"c","s":"400 K","x":296.5,"y":245},{"p":"c","k":"c","s":"400 K","x":297,"y":242},{"p":"c","k":"c","s":"400 K","x":297.5,"y":240},{"p":"c","k":"c","s":"400 K","x":298,"y":238},{"p":"c","k":"c","s":"400 K","x":298.5,"y":236},{"p":"c","k":"c","s":"400 K","x":299,"y":234},{"p":"c","k":"c","s":"400 K","x":299.5,"y":232},{"p":"c","k":"c","s":"400 K","x":300,"y":230},{"p":"c","k":"c","s":"400 K","x":300.5,"y":228},{"p":"c","k":"c","s":"400 K","x":301,"y":226},{"p":"c","k":"c","s":"400 K","x":301.5,"y":224},{"p":"c","k":"c","s":"400 K","x":302,"y":222},{"p":"c","k":"c","s":"400 K","x":302.5,"y":220},{"p":"c","k":"c","s":"400 K","x":303,"y":218},{"p":"c","k":"c","s":"400 K","x":303.5,"y":216},{"p":"c","k":"c","s":"400 K","x":304,"y":214},{"p":"c","k":"c","s":"400 K","x":304.5,"y":212},{"p":"c","k":"c","s":"400 K","x":305,"y":210},{"p":"c","k":"c","s":"400 K","x":305.5,"y":208},{"p":"c","k":"c","s":"400 K","x":306,"y":206},{"p":"c","k":"c","s":"400 K","x":306.5,"y":204},{"p":"c","k":"c","s":"400 K","x":307,"y":202},{"p":"c","k":"c","s":"400 K","x":307.5,"y":200},{"p":"c","k":"c","s":"400 K","x":308,"y":198},{"p":"c","k":"c","s":"400 K","x":308.5,"y":196},{"p":"c","k":"c","s":"400 K","x":309,"y":194},{"p":"c","k":"c","s":"400 K","x":309.5,"y":192},{"p":"c","k":"c","s":"400 K","x":310,"y":190},{"p":"c","k":"c","s":"400 K","x":310.5,"y":188},{"p":"c","k":"c","s":"400 K","x":311,"y":186},{"p":"c","k":"c","s":"400 K","x":311.5,"y":184},{"p":"c","k":"c","s":"400 K","x":312,"y":182},{"p":"c","k":"c","s":"400 K","x":312.5,"y":180},{"p":"c","k":"c","s":"400 K","x":313,"y":179},{"p":"c","k":"c","s":"400 K","x":313.5,"y":177},{"p":"c","k":"c","s":"400 K","x":314,"y":175},{"p":"c","k":"c","s":"400 K","x":314.5,"y":174},{"p":"c","k":"c","s":"400 K","x":315,"y":172},{"p":"c","k":"c","s":"400 K","x":315.5,"y":170},{"p":"c","k":"c","s":"400 K","x":316,"y":169},{"p":"c","k":"c","s":"400 K","x":316.5,"y":167},{"p":"c","k":"c","s":"400 K","x":317,"y":166},{"p":"c","k":"c","s":"400 K","x":317.5,"y":164},{"p":"c","k":"c","s":"400 K","x":318,"y":163},{"p":"c","k":"c","s":"400 K","x":318.5,"y":161},{"p":"c","k":"c","s":"400 K","x":319,"y":160},{"p":"c","k":"c","s":"400 K","x":319.5,"y":158},{"p":"c","k":"c","s":"400 K","x":320,"y":157},
{"p":"c","k":"c","s":"225 K","x":285,"y":88},{"p":"c","k":"c","s":"225 K","x":285.5,"y":89},{"p":"c","k":"c","s":"225 K","x":286,"y":91},{"p":"c","k":"c","s":"225 K","x":286.4,"y":96},{"p":"c","k":"c","s":"225 K","x":286.7,"y":100},{"p":"c","k":"c","s":"225 K","x":287,"y":98},{"p":"c","k":"c","s":"225 K","x":287.3,"y":94},{"p":"c","k":"c","s":"225 K","x":287.6,"y":100},{"p":"c","k":"c","s":"225 K","x":287.9,"y":128},{"p":"c","k":"c","s":"225 K","x":288.1,"y":165},{"p":"c","k":"c","s":"225 K","x":288.3,"y":195},{"p":"c","k":"c","s":"225 K","x":288.5,"y":220},{"p":"c","k":"c","s":"225 K","x":288.75,"y":240},{"p":"c","k":"c","s":"225 K","x":289,"y":235},{"p":"c","k":"c","s":"225 K","x":289.3,"y":226},{"p":"c","k":"c","s":"225 K","x":289.6,"y":222},{"p":"c","k":"c","s":"225 K","x":289.9,"y":220},{"p":"c","k":"c","s":"225 K","x":290.2,"y":214},{"p":"c","k":"c","s":"225 K","x":290.5,"y":208},{"p":"c","k":"c","s":"225 K","x":290.8,"y":204},{"p":"c","k":"c","s":"225 K","x":291.2,"y":201},{"p":"c","k":"c","s":"225 K","x":291.6,"y":202},{"p":"c","k":"c","s":"225 K","x":292,"y":204},{"p":"c","k":"c","s":"225 K","x":292.4,"y":206},{"p":"c","k":"c","s":"225 K","x":292.8,"y":208},{"p":"c","k":"c","s":"225 K","x":293.2,"y":210},{"p":"c","k":"c","s":"225 K","x":293.6,"y":209},{"p":"c","k":"c","s":"225 K","x":294,"y":205},{"p":"c","k":"c","s":"225 K","x":294.5,"y":198},{"p":"c","k":"c","s":"225 K","x":295,"y":190},{"p":"c","k":"c","s":"225 K","x":295.5,"y":183},{"p":"c","k":"c","s":"225 K","x":296,"y":177},{"p":"c","k":"c","s":"225 K","x":296.5,"y":172},{"p":"c","k":"c","s":"225 K","x":297,"y":167},{"p":"c","k":"c","s":"225 K","x":297.5,"y":163},{"p":"c","k":"c","s":"225 K","x":298,"y":159},{"p":"c","k":"c","s":"225 K","x":298.5,"y":155},{"p":"c","k":"c","s":"225 K","x":299,"y":152},{"p":"c","k":"c","s":"225 K","x":299.5,"y":149},{"p":"c","k":"c","s":"225 K","x":300,"y":146},{"p":"c","k":"c","s":"225 K","x":300.5,"y":143},{"p":"c","k":"c","s":"225 K","x":301,"y":141},{"p":"c","k":"c","s":"225 K","x":301.5,"y":138},{"p":"c","k":"c","s":"225 K","x":302,"y":136},{"p":"c","k":"c","s":"225 K","x":302.5,"y":134},{"p":"c","k":"c","s":"225 K","x":303,"y":132},{"p":"c","k":"c","s":"225 K","x":303.5,"y":130},{"p":"c","k":"c","s":"225 K","x":304,"y":129},{"p":"c","k":"c","s":"225 K","x":304.5,"y":128},{"p":"c","k":"c","s":"225 K","x":305,"y":126},{"p":"c","k":"c","s":"225 K","x":305.5,"y":124},{"p":"c","k":"c","s":"225 K","x":306,"y":122},{"p":"c","k":"c","s":"225 K","x":306.5,"y":121},{"p":"c","k":"c","s":"225 K","x":307,"y":119},{"p":"c","k":"c","s":"225 K","x":307.5,"y":117},{"p":"c","k":"c","s":"225 K","x":308,"y":115},{"p":"c","k":"c","s":"225 K","x":308.5,"y":114},{"p":"c","k":"c","s":"225 K","x":309,"y":113},{"p":"c","k":"c","s":"225 K","x":309.5,"y":112},{"p":"c","k":"c","s":"225 K","x":310,"y":111},{"p":"c","k":"c","s":"225 K","x":310.5,"y":110},{"p":"c","k":"c","s":"225 K","x":311,"y":109},{"p":"c","k":"c","s":"225 K","x":312,"y":107},{"p":"c","k":"c","s":"225 K","x":313,"y":105},{"p":"c","k":"c","s":"225 K","x":314,"y":103},{"p":"c","k":"c","s":"225 K","x":315,"y":101},{"p":"c","k":"c","s":"225 K","x":316,"y":99},{"p":"c","k":"c","s":"225 K","x":317,"y":97},{"p":"c","k":"c","s":"225 K","x":318,"y":95},{"p":"c","k":"c","s":"225 K","x":319,"y":93},{"p":"c","k":"c","s":"225 K","x":320,"y":91},
{"p":"c","k":"c","s":"85 K","x":285,"y":16},{"p":"c","k":"c","s":"85 K","x":285.5,"y":17},{"p":"c","k":"c","s":"85 K","x":286,"y":18},{"p":"c","k":"c","s":"85 K","x":286.5,"y":18},{"p":"c","k":"c","s":"85 K","x":287,"y":19},{"p":"c","k":"c","s":"85 K","x":287.4,"y":20},{"p":"c","k":"c","s":"85 K","x":287.7,"y":28},{"p":"c","k":"c","s":"85 K","x":287.9,"y":41},{"p":"c","k":"c","s":"85 K","x":288.1,"y":75},{"p":"c","k":"c","s":"85 K","x":288.3,"y":111},{"p":"c","k":"c","s":"85 K","x":288.5,"y":138},{"p":"c","k":"c","s":"85 K","x":288.7,"y":145},{"p":"c","k":"c","s":"85 K","x":288.85,"y":138},{"p":"c","k":"c","s":"85 K","x":289.05,"y":120},{"p":"c","k":"c","s":"85 K","x":289.25,"y":115},{"p":"c","k":"c","s":"85 K","x":289.45,"y":125},{"p":"c","k":"c","s":"85 K","x":289.65,"y":155},{"p":"c","k":"c","s":"85 K","x":289.85,"y":170},{"p":"c","k":"c","s":"85 K","x":290,"y":165},{"p":"c","k":"c","s":"85 K","x":290.2,"y":140},{"p":"c","k":"c","s":"85 K","x":290.4,"y":118},{"p":"c","k":"c","s":"85 K","x":290.7,"y":106},{"p":"c","k":"c","s":"85 K","x":291,"y":103},{"p":"c","k":"c","s":"85 K","x":291.4,"y":103},{"p":"c","k":"c","s":"85 K","x":291.9,"y":106},{"p":"c","k":"c","s":"85 K","x":292.4,"y":109},{"p":"c","k":"c","s":"85 K","x":292.9,"y":111},{"p":"c","k":"c","s":"85 K","x":293.3,"y":111},{"p":"c","k":"c","s":"85 K","x":293.8,"y":108},{"p":"c","k":"c","s":"85 K","x":294.2,"y":105},{"p":"c","k":"c","s":"85 K","x":294.7,"y":99},{"p":"c","k":"c","s":"85 K","x":295.2,"y":93},{"p":"c","k":"c","s":"85 K","x":295.9,"y":86},{"p":"c","k":"c","s":"85 K","x":296.5,"y":80},{"p":"c","k":"c","s":"85 K","x":297.2,"y":74},{"p":"c","k":"c","s":"85 K","x":297.9,"y":71},{"p":"c","k":"c","s":"85 K","x":298.6,"y":68},{"p":"c","k":"c","s":"85 K","x":299.4,"y":66},{"p":"c","k":"c","s":"85 K","x":300.1,"y":65},{"p":"c","k":"c","s":"85 K","x":301,"y":63},{"p":"c","k":"c","s":"85 K","x":302.2,"y":62},{"p":"c","k":"c","s":"85 K","x":303.2,"y":61},{"p":"c","k":"c","s":"85 K","x":304.2,"y":60},{"p":"c","k":"c","s":"85 K","x":305.2,"y":58},{"p":"c","k":"c","s":"85 K","x":306.3,"y":55},{"p":"c","k":"c","s":"85 K","x":307.5,"y":52},{"p":"c","k":"c","s":"85 K","x":308.9,"y":50},{"p":"c","k":"c","s":"85 K","x":310.4,"y":48},{"p":"c","k":"c","s":"85 K","x":312.5,"y":45},{"p":"c","k":"c","s":"85 K","x":314.7,"y":43},{"p":"c","k":"c","s":"85 K","x":317,"y":42},{"p":"c","k":"c","s":"85 K","x":319.9,"y":40},
{"p":"a","k":"t","x":301.75,"y":365,"t":"α=0°"},{"p":"a","k":"b","x":316.25,"y":365,"t":"(a)"},{"p":"a","k":"v","x":287.5,"y":327,"t":"288.5"},{"p":"a","k":"r","x":287.5,"y":300,"x2":288.4,"y2":271},{"p":"a","k":"t","x":290.1,"y":350,"t":"R₁"},{"p":"a","k":"d","x":289.5,"y":342,"x2":288.5,"y2":271},{"p":"a","k":"d","x":288.5,"y":271,"x2":288.75,"y2":116},{"p":"a","k":"t","x":293,"y":340,"t":"R₂"},{"p":"a","k":"d","x":292,"y":332,"x2":289.75,"y2":295},{"p":"a","k":"d","x":289.75,"y":295,"x2":290,"y2":173},{"p":"a","k":"t","x":295.25,"y":311,"t":"289.5"},{"p":"a","k":"r","x":292.1,"y":308,"x2":290,"y2":296},{"p":"a","k":"t","x":295.25,"y":228,"t":"289.7"},{"p":"a","k":"r","x":292.1,"y":225,"x2":290.5,"y2":222},{"p":"a","k":"t","x":297.6,"y":205,"t":"R₃"},{"p":"a","k":"d","x":296.1,"y":207,"x2":294,"y2":197},{"p":"a","k":"d","x":294,"y":197,"x2":293.1,"y2":93},{"p":"a","k":"v","x":291.4,"y":160,"t":"289.9"},{"p":"a","k":"v","x":289.5,"y":73,"t":"288.7"},{"p":"a","k":"v","x":293.1,"y":70,"t":"293"},{"p":"a","k":"k","x":319.25,"y":215,"t":"400 K"},{"p":"a","k":"k","x":319.25,"y":132,"t":"225 K"},{"p":"a","k":"k","x":319.25,"y":58,"t":"85 K"},
{"p":"b","k":"t","x":302.4,"y":365,"t":"α=40°"},{"p":"b","k":"b","x":315.9,"y":365,"t":"(b)"},{"p":"b","k":"v","x":286.2,"y":291,"t":"contam."},{"p":"b","k":"r","x":286.5,"y":265,"x2":287.4,"y2":236},{"p":"b","k":"v","x":288.5,"y":348,"t":"288.6"},{"p":"b","k":"r","x":288.5,"y":324,"x2":288.4,"y2":296},{"p":"b","k":"t","x":291.75,"y":355,"t":"R₁"},{"p":"b","k":"d","x":291.1,"y":348,"x2":288.5,"y2":293},{"p":"b","k":"d","x":288.5,"y":293,"x2":288.75,"y2":115},{"p":"b","k":"t","x":294,"y":336,"t":"R₂"},{"p":"b","k":"d","x":293,"y":330,"x2":289.6,"y2":288},{"p":"b","k":"d","x":289.6,"y":288,"x2":290,"y2":160},{"p":"b","k":"t","x":294.9,"y":305,"t":"289.6"},{"p":"b","k":"r","x":292,"y":301,"x2":289.8,"y2":289},{"p":"b","k":"t","x":294.25,"y":231,"t":"289.6"},{"p":"b","k":"r","x":291,"y":228,"x2":289.95,"y2":218},{"p":"b","k":"t","x":297.5,"y":200,"t":"R₃"},{"p":"b","k":"d","x":296.1,"y":199,"x2":293.5,"y2":192},{"p":"b","k":"d","x":293.5,"y":192,"x2":293,"y2":91},{"p":"b","k":"v","x":286.75,"y":128,"t":"288.5"},{"p":"b","k":"r","x":287.1,"y":150,"x2":288.3,"y2":180},{"p":"b","k":"v","x":291.75,"y":140,"t":"289.9"},{"p":"b","k":"v","x":289.5,"y":66,"t":"288.7"},{"p":"b","k":"v","x":293.25,"y":66,"t":"293"},{"p":"b","k":"k","x":318.9,"y":196,"t":"400 K"},{"p":"b","k":"k","x":318.9,"y":128,"t":"225 K"},{"p":"b","k":"k","x":318.9,"y":55,"t":"85 K"},
{"p":"c","k":"t","x":302.75,"y":365,"t":"α=80°"},{"p":"c","k":"b","x":315.9,"y":365,"t":"(c)"},{"p":"c","k":"v","x":286.6,"y":323,"t":"contam."},{"p":"c","k":"r","x":287,"y":298,"x2":287.35,"y2":271},{"p":"c","k":"t","x":291.9,"y":345,"t":"288.6"},{"p":"c","k":"r","x":290.4,"y":336,"x2":288.75,"y2":313},{"p":"c","k":"t","x":294.1,"y":315,"t":"R₁"},{"p":"c","k":"d","x":292.5,"y":316,"x2":288.6,"y2":310},{"p":"c","k":"d","x":288.6,"y":310,"x2":288.65,"y2":145},{"p":"c","k":"t","x":294.75,"y":286,"t":"R₂"},{"p":"c","k":"d","x":293.1,"y":288,"x2":289.6,"y2":281},{"p":"c","k":"d","x":289.6,"y":281,"x2":289.85,"y2":170},{"p":"c","k":"t","x":297.5,"y":201,"t":"R₃"},{"p":"c","k":"d","x":296.1,"y":205,"x2":293.4,"y2":210},{"p":"c","k":"d","x":293.4,"y":210,"x2":293,"y2":111},{"p":"c","k":"v","x":286.5,"y":178,"t":"288.8"},{"p":"c","k":"r","x":287.25,"y":204,"x2":288.2,"y2":232},{"p":"c","k":"v","x":291.5,"y":166,"t":"289.9"},{"p":"c","k":"v","x":289.4,"y":83,"t":"288.7"},{"p":"c","k":"v","x":292.75,"y":87,"t":"293"},{"p":"c","k":"k","x":318.75,"y":181,"t":"400 K"},{"p":"c","k":"k","x":318.75,"y":115,"t":"225 K"},{"p":"c","k":"k","x":318.75,"y":55,"t":"85 K"}
]},
"facet":{"column":{"field":"p","type":"nominal","title":null,"header":{"labels":false,"title":null}}},
"spec":{
"width":280,"height":381,
"encoding":{
"x":{"field":"x","type":"quantitative","scale":{"domain":[285,320],"nice":false,"zero":false},"title":"Photon energy [eV]",
"axis":{"values":[285,287.5,290,292.5,295,297.5,300,302.5,305,307.5,310,312.5,315,317.5,320],"labelExpr":"datum.value % 5 === 0 ? format(datum.value,'d') : ''","labelPadding":7,"titlePadding":10,"labelFlush":false,"labelOverlap":false}},
"y":{"field":"y","type":"quantitative","scale":{"domain":[0,381],"nice":false,"zero":false},"axis":null}
},
"layer":[
{"transform":[{"filter":"datum.k=='c'"}],"mark":{"type":"line","strokeWidth":1.6},
"encoding":{"color":{"field":"s","type":"nominal","scale":{"domain":["400 K","225 K","85 K"],"range":["#e8291c","#66662a","#2a3cb4"]},"legend":null}}},
{"transform":[{"filter":"datum.k=='d'"}],"mark":{"type":"rule","strokeDash":[3,2],"strokeWidth":1,"color":"black"},
"encoding":{"x2":{"field":"x2"},"y2":{"field":"y2"}}},
{"transform":[{"filter":"datum.k=='r'"}],"mark":{"type":"rule","strokeWidth":1.4,"color":"black"},
"encoding":{"x2":{"field":"x2"},"y2":{"field":"y2"}}},
{"transform":[{"filter":"datum.k=='r'"},{"calculate":"atan2((datum.x2-datum.x)*8,(datum.y2-datum.y))*180/PI","as":"ang"}],
"mark":{"type":"point","shape":"triangle-up","filled":true,"color":"black","size":45,"opacity":1},
"encoding":{"x":{"field":"x2","type":"quantitative"},"y":{"field":"y2","type":"quantitative"},"angle":{"field":"ang","type":"quantitative","scale":null}}},
{"transform":[{"filter":"datum.k=='t'"}],"mark":{"type":"text","fontSize":19,"align":"center","baseline":"middle","color":"black"},
"encoding":{"text":{"field":"t"}}},
{"transform":[{"filter":"datum.k=='k'"}],"mark":{"type":"text","fontSize":19,"align":"right","baseline":"middle","color":"black"},
"encoding":{"text":{"field":"t"}}},
{"transform":[{"filter":"datum.k=='v'"}],"mark":{"type":"text","fontSize":19,"align":"center","baseline":"middle","angle":270,"color":"black"},
"encoding":{"text":{"field":"t"}}},
{"transform":[{"filter":"datum.k=='b'"}],"mark":{"type":"text","fontSize":21,"fontWeight":"bold","align":"center","baseline":"middle","color":"black"},
"encoding":{"text":{"field":"t"}}}
]
}
}
